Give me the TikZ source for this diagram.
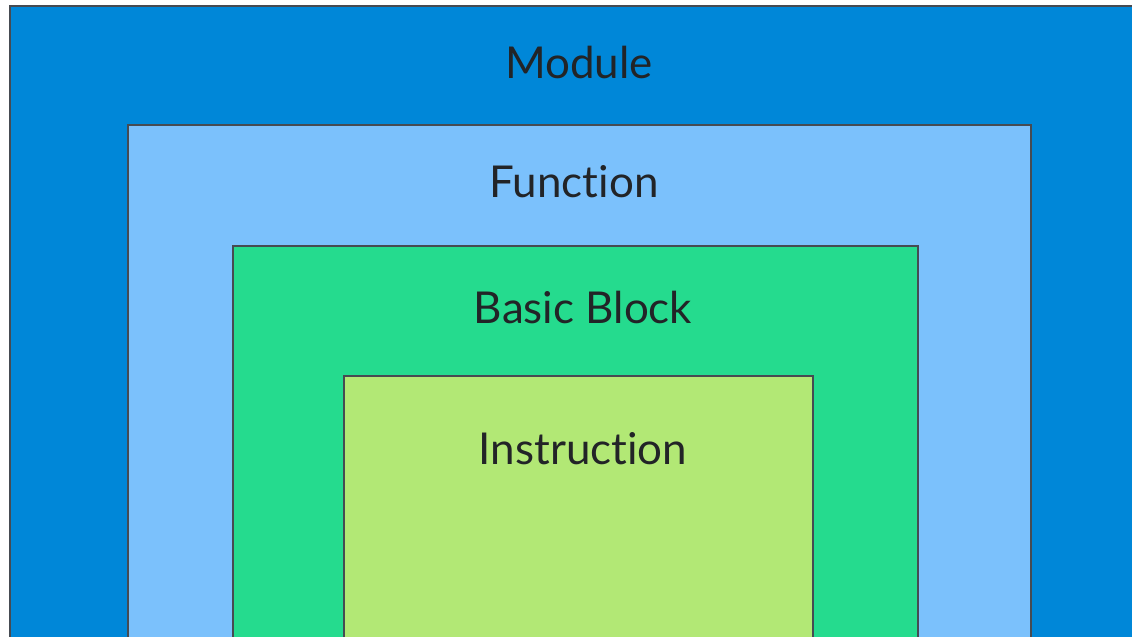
\documentclass[tikz,border=0pt]{standalone}
\usepackage{fontspec}
\setmainfont{Lato}[Ligatures={NoCommon,NoRare,NoContextual}]
\usepackage{tikz}

\definecolor{modblue}{HTML}{0087D8}
\definecolor{funblue}{HTML}{7BC1FC}
\definecolor{bbgreen}{HTML}{25DB8E}
\definecolor{insgreen}{HTML}{B2E875}
\definecolor{edgegray}{HTML}{464B52}
\definecolor{textgray}{HTML}{222427}

\begin{document}
\begin{tikzpicture}[x=0.02cm, y=-0.02cm]
            \useasboundingbox (0,0) rectangle (1132,636);
            \clip (0,0) rectangle (1132,636);

            \begin{scope}[every path/.style={draw=edgegray, line width=1.1pt}]
                \path [fill=modblue] (10,6) rectangle (1160,680);
                \path [fill=funblue] (128,125) rectangle (1031,680);
                \path [fill=bbgreen] (233,246) rectangle (918,680);
                \path [fill=insgreen] (344,376) rectangle (813,680);
            \end{scope}

            \begin{scope}[every node/.style={anchor=base, text=textgray, font=\fontsize{25}{30}\selectfont, inner sep=0pt}]
                \node (module) at (579,78) {Module};
                \node (function) at (574,197) {Function};
                \node (basicblock) at (583,323) {Basic Block};
                \node (instruction) at (583,464) {Instruction};
            \end{scope}
        \end{tikzpicture}
\end{document}
